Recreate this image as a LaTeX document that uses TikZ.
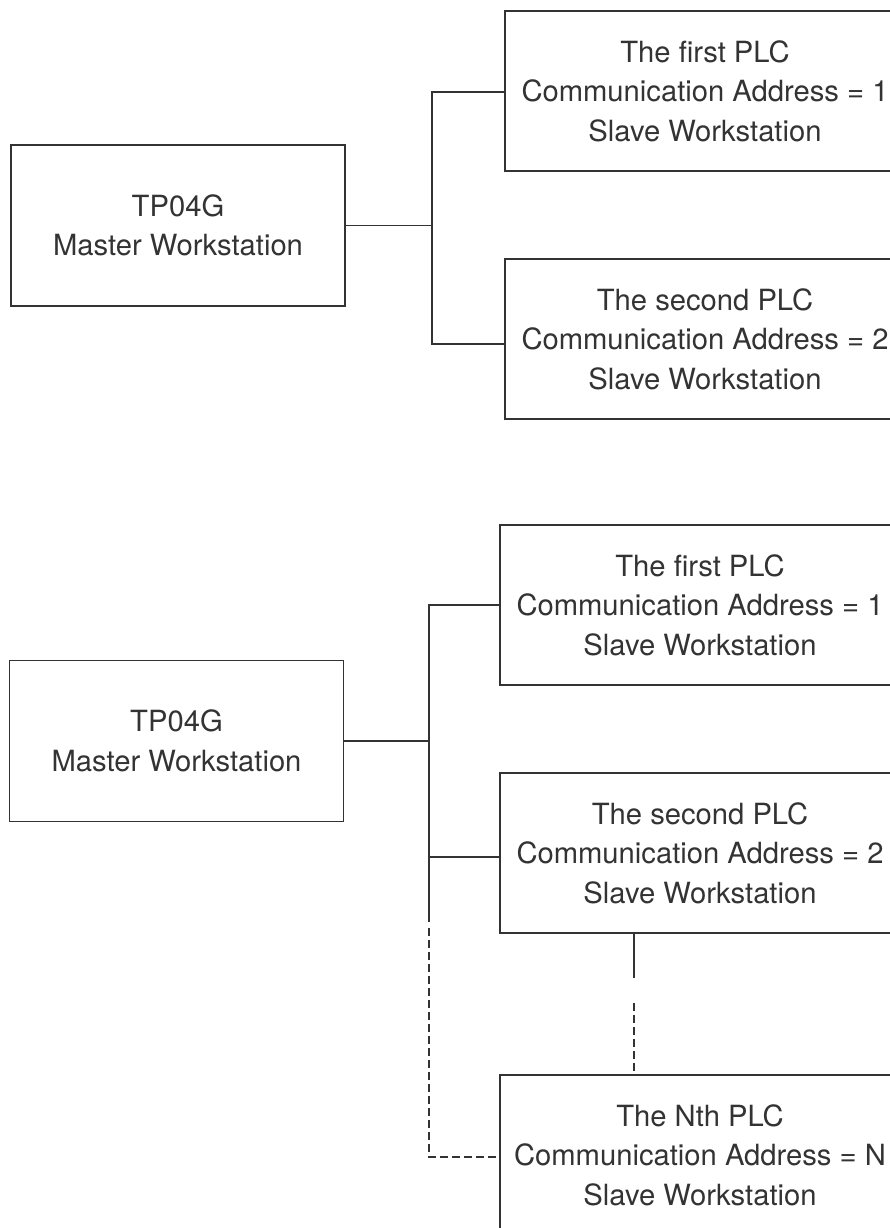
\documentclass[tikz,border=0pt]{standalone}
\usepackage{fontspec}
\setmainfont{TeX Gyre Heros}
\definecolor{linec}{HTML}{333333}
\definecolor{textc}{HTML}{333333}
\begin{document}
\begin{tikzpicture}[x=1pt,y=-1pt,
  box/.style={draw=linec, line width=1.8pt, fill=white, inner sep=0pt, align=center,
    font=\fontsize{29.2}{39.5}\selectfont, text=textc},
  master/.style={box, minimum width=334pt, minimum height=161pt},
  slave/.style={box, minimum width=400pt, minimum height=160pt},
  wire/.style={draw=linec, line width=1.8pt},
  dwire/.style={wire, dash pattern=on 8pt off 4pt}]
\useasboundingbox (0,0) rectangle (890,1228);
\clip (0,0) rectangle (890,1228);
\fill[white] (0,0) rectangle (890,1228);

% top group
\node[master] (m1) at (178,225.5) {TP04G\\Master Workstation};
\node[slave] (t1) at (705,91) {The first PLC\\Communication Address = 1\\Slave Workstation};
\node[slave] (t2) at (705,339) {The second PLC\\Communication Address = 2\\Slave Workstation};
\coordinate (j1) at (432,225.5);
\coordinate (j1a) at (432,92);
\coordinate (j1b) at (432,344);
\draw[wire] (m1.east) -- (j1);
\draw[wire] (t1.west |- j1a) -- (j1a) -- (j1b) -- (t2.west |- j1b);

% bottom group
\node[master] (m2) at (176.5,741) {TP04G\\Master Workstation};
\node[slave] (b1) at (700,605) {The first PLC\\Communication Address = 1\\Slave Workstation};
\node[slave] (b2) at (700,853) {The second PLC\\Communication Address = 2\\Slave Workstation};
\node[slave] (b3) at (700,1155) {The Nth PLC\\Communication Address = N\\Slave Workstation};
\coordinate (j2) at (429,741);
\coordinate (j2a) at (429,605);
\coordinate (j2b) at (429,857);
\coordinate (j2c) at (429,922);
\coordinate (j2d) at (429,928);
\coordinate (j2e) at (429,1157);
\draw[wire] (m2.east) -- (j2);
\draw[wire] (b1.west |- j2a) -- (j2a) -- (j2c);
\draw[wire] (j2b) -- (b2.west |- j2b);
\draw[dwire] (j2d) -- (j2e) -- (b3.west |- j2e);
\coordinate (v1) at (634,978);
\coordinate (v2) at (634,1003);
\draw[wire] (b2.south -| v1) -- (v1);
\draw[dwire] (v2) -- (b3.north -| v2);
\end{tikzpicture}
\end{document}
